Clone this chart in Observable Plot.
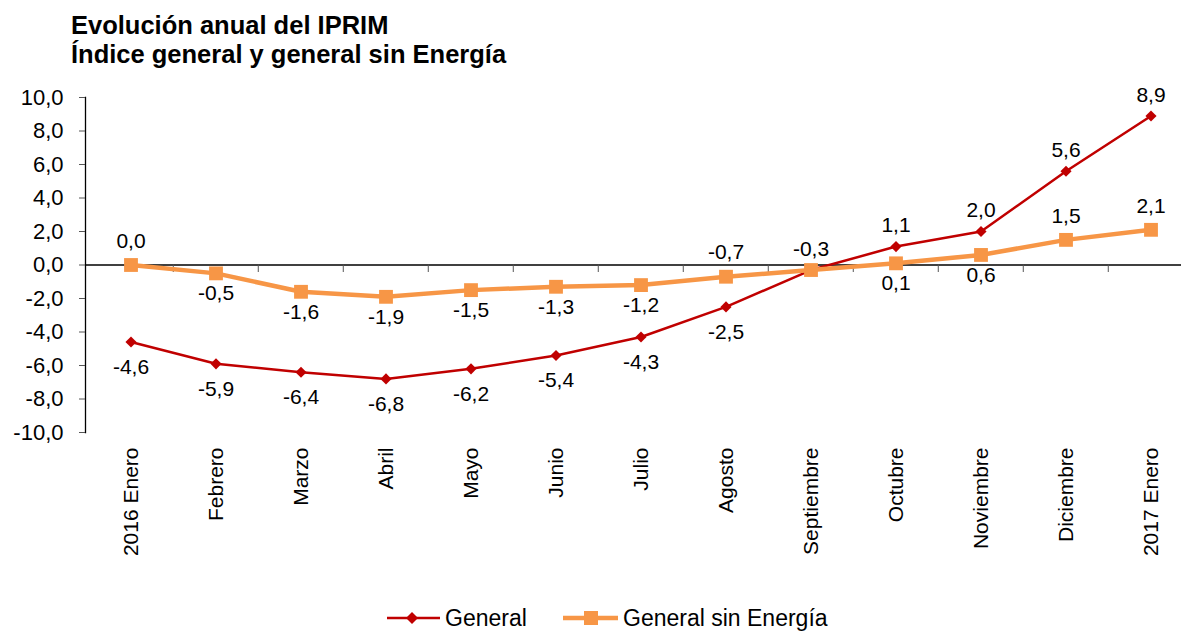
<!DOCTYPE html>
<html><head><meta charset="utf-8">
<script src="https://cdn.jsdelivr.net/npm/d3@7"></script>
<script src="https://cdn.jsdelivr.net/npm/@observablehq/plot@0.6"></script>
<style>
body{margin:0;background:#fff;font-family:"Liberation Sans",Arial,sans-serif;}
#wrap{position:relative;width:1181px;height:631px;overflow:hidden;}
#title{position:absolute;left:71px;top:11px;font-weight:bold;font-size:25.5px;line-height:29px;color:#000;white-space:nowrap;}
#chart{position:absolute;left:0;top:0;}
#legend{position:absolute;left:0;top:600px;font-family:"Liberation Sans",Arial,sans-serif;}
</style></head><body>
<div id="wrap">
<div id="chart"></div>
<div id="title">Evolución anual del IPRIM<br>Índice general y general sin Energía</div>
<svg id="legend" width="1181" height="31">
 <line x1="387" x2="440" y1="18" y2="18" stroke="#C00000" stroke-width="2.5"/>
 <path d="M412,12 L418,18 L412,24 L406,18 Z" fill="#C00000"/>
 <text x="445" y="25.5" font-size="23" fill="#000">General</text>
 <line x1="563" x2="618" y1="18" y2="18" stroke="#F79646" stroke-width="4.5"/>
 <rect x="584" y="11" width="14" height="14" fill="#F79646"/>
 <text x="623" y="25.5" font-size="23" fill="#000">General sin Energía</text>
</svg>
</div>
<script>
const months = ["2016 Enero","Febrero","Marzo","Abril","Mayo","Junio","Julio","Agosto","Septiembre","Octubre","Noviembre","Diciembre","2017 Enero"];
const general = [-4.6,-5.9,-6.4,-6.8,-6.2,-5.4,-4.3,-2.5,-0.3,1.1,2.0,5.6,8.9];
const sinEnergia = [0.0,-0.5,-1.6,-1.9,-1.5,-1.3,-1.2,-0.7,-0.3,0.1,0.6,1.5,2.1];
const generalLabelPos = ["below","below","below","below","below","below","below","below","above","above","above","above","above"];
const sinEnergiaLabelPos = ["above","below","below","below","below","below","below","above","none","below","below","above","above"];
const yTicks = [-10,-8,-6,-4,-2,0,2,4,6,8,10];

const fmt = v => v.toFixed(1).replace(".", ",");
const gData = months.map((m, i) => ({m, v: general[i], pos: generalLabelPos[i]}));
const sData = months.map((m, i) => ({m, v: sinEnergia[i], pos: sinEnergiaLabelPos[i]}));

const xRange = [85, 1196];
const bw = (xRange[1] - xRange[0]) / months.length;
const red = "#C00000", orange = "#F79646";

const chart = Plot.plot({
  width: 1181, height: 600,
  marginLeft: 85, marginRight: 0, marginTop: 97, marginBottom: 168,
  style: {fontFamily: "'Liberation Sans', Arial, sans-serif", fontSize: "21px", color: "#000", background: "transparent", overflow: "visible"},
  x: {type: "band", domain: months, range: xRange, padding: 0, label: null},
  y: {domain: [-10, 10], label: null},
  marks: [
    Plot.ruleY([0], {stroke: "#000", strokeWidth: 1.3}),
    Plot.ruleX(months.slice(1), {x: d => d, y1: 0, y2: -10, insetBottom: 160, dx: -bw / 2, stroke: "#555", strokeWidth: 1}),
    Plot.frame({anchor: "left", stroke: "#000", strokeWidth: 1.3}),
    Plot.axisY({ticks: yTicks, tickFormat: fmt, tickSize: 6, tickPadding: 16, fontSize: 22, stroke: "#555", fill: "#000", label: null}),
    Plot.axisX({tickRotate: -90, tickSize: 0, tickPadding: 15, fill: "#000", label: null}),
    Plot.line(gData, {x: "m", y: "v", stroke: red, strokeWidth: 2.5}),
    Plot.dot(gData, {x: "m", y: "v", symbol: "diamond2", r: 5, fill: red, stroke: "none"}),
    Plot.line(sData, {x: "m", y: "v", stroke: orange, strokeWidth: 4.5}),
    Plot.dot(sData, {x: "m", y: "v", symbol: "square", r: 7.8, fill: orange, stroke: "none"}),
    Plot.text(gData.filter(d => d.pos === "below"), {x: "m", y: "v", text: d => fmt(d.v), dy: 25, fill: "#000"}),
    Plot.text(gData.filter(d => d.pos === "above"), {x: "m", y: "v", text: d => fmt(d.v), dy: -21, fill: "#000"}),
    Plot.text(sData.filter(d => d.pos === "below"), {x: "m", y: "v", text: d => fmt(d.v), dy: 20, fill: "#000"}),
    Plot.text(sData.filter(d => d.pos === "above"), {x: "m", y: "v", text: d => fmt(d.v), dy: -24, fill: "#000"})
  ]
});
document.getElementById("chart").appendChild(chart);
</script>
</body></html>
